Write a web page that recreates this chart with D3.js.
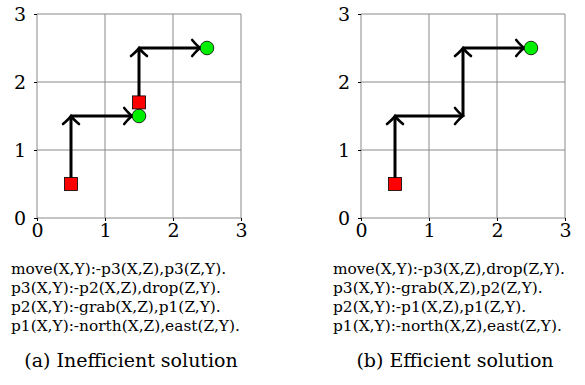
<!DOCTYPE html>
<html>
<head>
<meta charset="utf-8">
<script src="https://cdn.jsdelivr.net/npm/d3@7"></script>
<style>
  body { margin: 0; background: #fff; }
  svg { display: block; }
  svg text { font-family: "DejaVu Serif", serif; }
</style>
</head>
<body>
<div id="chart"></div>
<script>
// grid/tick values
var ticks = [0, 1, 2, 3];

// panel (a): inefficient solution
var startsA = [[0.5, 0.5], [1.5, 1.7]];
var goalsA = [[1.5, 1.5], [2.5, 2.5]];
var arrowsA = [
  [0.5, 0.5, 0.5, 1.5],
  [0.5, 1.5, 1.5, 1.5],
  [1.5, 1.7, 1.5, 2.5],
  [1.5, 2.5, 2.5, 2.5]
];
var codeA = [
  "move(X,Y):-p3(X,Z),p3(Z,Y).",
  "p3(X,Y):-p2(X,Z),drop(Z,Y).",
  "p2(X,Y):-grab(X,Z),p1(Z,Y).",
  "p1(X,Y):-north(X,Z),east(Z,Y)."
];
var captionA = "(a) Inefficient solution";

// panel (b): efficient solution
var startsB = [[0.5, 0.5]];
var goalsB = [[2.5, 2.5]];
var arrowsB = [
  [0.5, 0.5, 0.5, 1.5],
  [0.5, 1.5, 1.5, 1.5],
  [1.5, 1.5, 1.5, 2.5],
  [1.5, 2.5, 2.5, 2.5]
];
var codeB = [
  "move(X,Y):-p3(X,Z),drop(Z,Y).",
  "p3(X,Y):-grab(X,Z),p2(Z,Y).",
  "p2(X,Y):-p1(X,Z),p1(Z,Y).",
  "p1(X,Y):-north(X,Z),east(Z,Y)."
];
var captionB = "(b) Efficient solution";

var width = 585, height = 385;

var svg = d3.select("#chart")
  .append("svg")
  .attr("width", width)
  .attr("height", height);

var defs = svg.append("defs");
defs.append("marker")
  .attr("id", "head")
  .attr("viewBox", "-11 -10 14 20")
  .attr("markerWidth", 14)
  .attr("markerHeight", 20)
  .attr("refX", 0)
  .attr("refY", 0)
  .attr("markerUnits", "userSpaceOnUse")
  .attr("orient", "auto")
  .append("path")
  .attr("d", "M-8,-8 Q-3,-2 0,0 Q-3,2 -8,8")
  .attr("fill", "none")
  .attr("stroke", "#000")
  .attr("stroke-width", 2.6)
  .attr("stroke-linecap", "round");

function panel(left, starts, goals, arrows, code, caption, textX) {
  var x = d3.scaleLinear().domain([0, 3]).range([left, left + 204]);
  var y = d3.scaleLinear().domain([0, 3]).range([218, 14]);
  var g = svg.append("g");
  var r = 6.8, side = 13;

  // grid
  g.selectAll(".gx").data(ticks).enter().append("line")
    .attr("x1", function (d) { return x(d); })
    .attr("x2", function (d) { return x(d); })
    .attr("y1", y(0)).attr("y2", y(3))
    .attr("stroke", "#8a8a8a").attr("stroke-width", 1);
  g.selectAll(".gy").data(ticks).enter().append("line")
    .attr("y1", function (d) { return y(d); })
    .attr("y2", function (d) { return y(d); })
    .attr("x1", x(0)).attr("x2", x(3))
    .attr("stroke", "#8a8a8a").attr("stroke-width", 1);

  // axes
  var xAxis = g.append("g")
    .attr("transform", "translate(0," + y(0) + ")")
    .call(d3.axisBottom(x).tickValues(ticks).tickSize(3).tickPadding(3).tickFormat(d3.format("d")));
  var yAxis = g.append("g")
    .attr("transform", "translate(" + x(0) + ",0)")
    .call(d3.axisLeft(y).tickValues(ticks).tickSize(3).tickPadding(8).tickFormat(d3.format("d")));
  [xAxis, yAxis].forEach(function (a) {
    a.attr("font-family", null).attr("font-size", null);
    a.select(".domain").remove();
    a.selectAll("line").attr("stroke", "#000").attr("stroke-width", 1);
    a.selectAll("text")
      .style("font-size", "19px")
      .attr("fill", "#000");
  });

  // arrows, shortened where they end on a goal circle
  g.selectAll(".arrow").data(arrows).enter().append("line")
    .attr("x1", function (d) { return x(d[0]); })
    .attr("y1", function (d) { return y(d[1]); })
    .attr("x2", function (d) {
      var hit = goals.some(function (c) { return c[0] === d[2] && c[1] === d[3]; });
      var dx = Math.sign(d[2] - d[0]);
      return x(d[2]) - (hit ? dx * r : 0);
    })
    .attr("y2", function (d) {
      var hit = goals.some(function (c) { return c[0] === d[2] && c[1] === d[3]; });
      var dy = Math.sign(d[3] - d[1]);
      return y(d[3]) + (hit ? dy * r : 0);
    })
    .attr("stroke", "#000")
    .attr("stroke-width", 3)
    .attr("marker-end", "url(#head)");

  // start squares
  g.selectAll(".start").data(starts).enter().append("rect")
    .attr("x", function (d) { return x(d[0]) - side / 2; })
    .attr("y", function (d) { return y(d[1]) - side / 2; })
    .attr("width", side).attr("height", side)
    .attr("fill", "#ff0000").attr("stroke", "#000").attr("stroke-width", 0.8);

  // goal circles
  g.selectAll(".goal").data(goals).enter().append("circle")
    .attr("cx", function (d) { return x(d[0]); })
    .attr("cy", function (d) { return y(d[1]); })
    .attr("r", r)
    .attr("fill", "#00ee00").attr("stroke", "#000").attr("stroke-width", 0.8);

  // program text
  g.selectAll(".code").data(code).enter().append("text")
    .attr("x", textX)
    .attr("y", function (d, i) { return 274 + i * 19; })
    .style("font-size", "15.4px")
    .attr("fill", "#000")
    .text(function (d) { return d; });

  g.append("text")
    .attr("x", (x(0) + x(3)) / 2 - 8)
    .attr("y", 367)
    .attr("text-anchor", "middle")
    .style("font-size", "19px")
    .attr("fill", "#000")
    .text(caption);
}

panel(37, startsA, goalsA, arrowsA, codeA, captionA, 11);
panel(361, startsB, goalsB, arrowsB, codeB, captionB, 333);
</script>
</body>
</html>
